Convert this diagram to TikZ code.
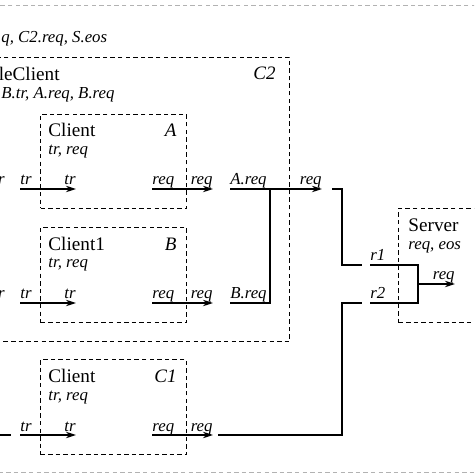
\documentclass[tikz,border=0pt]{standalone}
\usepackage{fontspec}
\setmainfont{Liberation Serif}
\usetikzlibrary{positioning,arrows.meta}

\tikzset{
  box/.style={draw, dash pattern=on 2.2pt off 1.6pt, line width=0.5pt},
  wire/.style={line width=0.6pt},
  port/.style={wire, -{Stealth[length=5pt,width=3.2pt]}},
  lbl/.style={font=\fontsize{8.4}{10}\selectfont\itshape, inner sep=0pt},
  idl/.style={font=\fontsize{9.5}{11}\selectfont\itshape, inner sep=0pt},
  ttl/.style={font=\fontsize{9.6}{11}\selectfont, inner sep=0pt},
}

\begin{document}
\begin{tikzpicture}[x=0.5pt,y=-0.5pt]
\useasboundingbox (0,0) rectangle (474,474);
\clip (0,0) rectangle (474,474);

% boxes
\node (top) [box, draw=gray!60, anchor=north west, minimum width=280pt, minimum height=233.5pt] at (-40,5) {};
\node (C2) [box, anchor=north east, minimum width=200pt, minimum height=142pt] at (290,57) {};
\node (A) [box, anchor=north west, minimum width=73pt, minimum height=47pt] at (40,114) {};
\node (B) [box, anchor=north west, minimum width=73pt, minimum height=47.5pt] at (40,227) {};
\node (C1) [box, anchor=north west, minimum width=73pt, minimum height=47.5pt] at (40,359) {};
\node (S) [box, anchor=north west, minimum width=75pt, minimum height=57pt] at (398,208) {};

% titles
\node (topsig) [lbl, anchor=base west] at (1,43) {q, C2.req, S.eos};
\node (C2name) [ttl, anchor=base east] at (60,81) {leClient};
\node (C2sig) [lbl, anchor=base west] at (1,99) {B.tr, A.req, B.req};
\node (C2id) [idl, anchor=base east] at (276,80) {C2};
\node (Aname) [ttl, anchor=base west] at (48,137) {Client};
\node (Asig) [lbl, anchor=base west] at (48,155) {tr, req};
\node (Aid) [idl, anchor=base east] at (177,137) {A};
\node (Bname) [ttl, anchor=base west] at (48,251) {Client1};
\node (Bsig) [lbl, anchor=base west] at (48,268) {tr, req};
\node (Bid) [idl, anchor=base east] at (177,251) {B};
\node (C1name) [ttl, anchor=base west] at (48,382) {Client};
\node (C1sig) [lbl, anchor=base west] at (48,400) {tr, req};
\node (C1id) [idl, anchor=base east] at (177,382) {C1};
\node (Sname) [ttl, anchor=base west] at (408,232) {Server};
\node (Ssig) [lbl, anchor=base west] at (408,250) {req, eos};

% ports of A
\coordinate (Atr) at (20,189);
\coordinate (Ain) at (76,189);
\coordinate (Areq) at (152,189);
\coordinate (Aout) at (213,189);
\node (Apre) [lbl, anchor=base east, yshift=2pt] at (5,189) {r};
\node (Atrl) [lbl, anchor=base west, yshift=2pt] at (Atr) {tr};
\node (Ainl) [lbl, anchor=base east, yshift=2pt] at (Ain) {tr};
\node (Areql) [lbl, anchor=base west, yshift=2pt] at (Areq) {req};
\node (Aoutl) [lbl, anchor=base east, yshift=2pt] at (Aout) {req};
\draw[port] (Atr) -- (Ain);
\draw[port] (Areq) -- (Aout);

% ports of B
\coordinate (Btr) at (20,303);
\coordinate (Bin) at (76,303);
\coordinate (Breq) at (152,303);
\coordinate (Bout) at (213,303);
\node (Bpre) [lbl, anchor=base east, yshift=2pt] at (5,303) {r};
\node (Btrl) [lbl, anchor=base west, yshift=2pt] at (Btr) {tr};
\node (Binl) [lbl, anchor=base east, yshift=2pt] at (Bin) {tr};
\node (Breql) [lbl, anchor=base west, yshift=2pt] at (Breq) {req};
\node (Boutl) [lbl, anchor=base east, yshift=2pt] at (Bout) {req};
\draw[port] (Btr) -- (Bin);
\draw[port] (Breq) -- (Bout);

% ports of C1
\coordinate (Cpre) at (-5,435);
\coordinate (Cpre1) at (11,435);
\coordinate (Ctr) at (20,435);
\coordinate (Cin) at (76,435);
\coordinate (Creq) at (152,435);
\coordinate (Cout) at (213,435);
\node (Ctrl) [lbl, anchor=base west, yshift=2pt] at (Ctr) {tr};
\node (Cinl) [lbl, anchor=base east, yshift=2pt] at (Cin) {tr};
\node (Creql) [lbl, anchor=base west, yshift=2pt] at (Creq) {req};
\node (Coutl) [lbl, anchor=base east, yshift=2pt] at (Cout) {req};
\draw[wire] (Cpre) -- (Cpre1);
\draw[port] (Ctr) -- (Cin);
\draw[port] (Creq) -- (Cout);

% C2 output
\coordinate (Ar) at (230,189);
\coordinate (Br) at (230,303);
\coordinate (Bj) at (270,303);
\coordinate (Aj) at (270,189);
\coordinate (C2out) at (322,189);
\node (Arl) [lbl, anchor=base west, yshift=2pt] at (Ar) {A.req};
\node (Brl) [lbl, anchor=base west, yshift=2pt] at (Br) {B.req};
\node (C2outl) [lbl, anchor=base east, yshift=2pt] at (C2out) {req};
\draw[port] (Ar) -- (C2out);
\draw[wire] (Br) -- (Bj) -- (Aj);

% to server
\coordinate (w1) at (332,189);
\coordinate (w1a) at (342,189);
\coordinate (w1b) at (342,265);
\coordinate (w1c) at (362,265);
\coordinate (w2) at (218,435);
\coordinate (w2a) at (342,435);
\coordinate (w2b) at (342,303);
\coordinate (w2c) at (362,303);
\draw[wire] (w1) -- (w1a) -- (w1b) -- (w1c);
\draw[wire] (w2) -- (w2a) -- (w2b) -- (w2c);

% server
\coordinate (r1) at (370,265);
\coordinate (r2) at (370,303);
\coordinate (m1) at (418,265);
\coordinate (m2) at (418,303);
\coordinate (Sj) at (418,284);
\coordinate (Sout) at (455,284);
\node (r1l) [lbl, anchor=base west, yshift=2pt] at (r1) {r1};
\node (r2l) [lbl, anchor=base west, yshift=2pt] at (r2) {r2};
\node (Soutl) [lbl, anchor=base east, yshift=2pt] at (Sout) {req};
\draw[wire] (r1) -- (m1) -- (m2) -- (r2);
\draw[port] (Sj) -- (Sout);
\end{tikzpicture}
\end{document}
